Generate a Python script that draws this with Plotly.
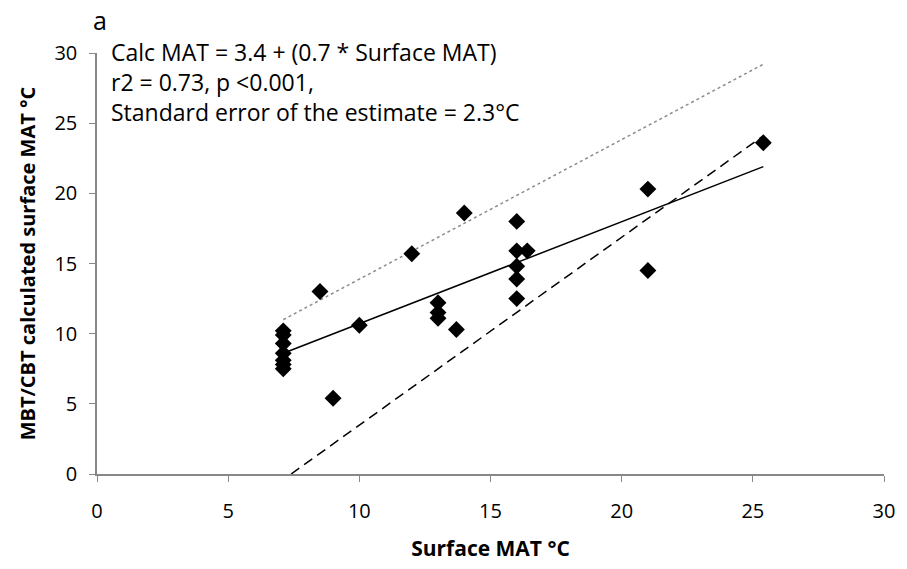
import plotly.graph_objects as go

# Data
surface_mat = [7.1, 7.1, 7.1, 7.1, 7.1, 7.1, 7.1, 8.5, 9.0, 10.0, 12.0, 13.0, 13.0, 13.0,
               13.7, 14.0, 16.0, 16.0, 16.4, 16.0, 16.0, 16.0, 21.0, 21.0, 25.4]
calc_mat = [10.2, 9.9, 9.3, 8.6, 8.1, 7.8, 7.5, 13.0, 5.4, 10.6, 15.7, 12.2, 11.5, 11.1,
            10.3, 18.6, 18.0, 15.9, 15.9, 14.8, 13.9, 12.5, 20.3, 14.5, 23.6]

trend_x = [7.1, 25.4]
trend_y = [8.6, 21.9]

upper_x = [7.1, 25.4]
upper_y = [11.0, 29.2]

dash_x = [7.4, 25.4]
dash_y = [0.0, 24.1]

x_ticks = [0, 5, 10, 15, 20, 25, 30]
y_ticks = [0, 5, 10, 15, 20, 25, 30]

annotation_lines = ["Calc MAT = 3.4 + (0.7 * Surface MAT)",
                    "r2 = 0.73, p <0.001,",
                    "Standard error of the estimate = 2.3°C"]

FONT = "Open Sans"

fig = go.Figure()
fig.add_trace(go.Scatter(x=upper_x, y=upper_y, mode="lines",
                         line=dict(color="#8c8c8c", width=1.5, dash="3px,3px"),
                         showlegend=False, hoverinfo="skip"))
fig.add_trace(go.Scatter(x=dash_x, y=dash_y, mode="lines",
                         line=dict(color="black", width=1.5, dash="10px,6px"),
                         showlegend=False, hoverinfo="skip"))
fig.add_trace(go.Scatter(x=trend_x, y=trend_y, mode="lines",
                         line=dict(color="black", width=1.5),
                         showlegend=False, hoverinfo="skip"))
fig.add_trace(go.Scatter(x=surface_mat, y=calc_mat, mode="markers",
                         marker=dict(symbol="diamond", size=13, color="black"),
                         showlegend=False))

fig.update_layout(
    width=907, height=569,
    margin=dict(l=97, r=13, t=53, b=93),
    paper_bgcolor="white", plot_bgcolor="white",
    font=dict(family=FONT, size=20, color="black"),
    xaxis=dict(range=[0, 30], tickvals=x_ticks, showgrid=False, zeroline=False,
               showline=True, linecolor="#888888", linewidth=1.5,
               ticks="outside", ticklen=6, tickcolor="#888888",
               ticklabelstandoff=12,
               tickfont=dict(family=FONT, size=20),
               title=dict(text="<b>Surface MAT °C</b>", font=dict(family=FONT, size=21), standoff=19)),
    yaxis=dict(range=[0, 30], tickvals=y_ticks, showgrid=False, zeroline=False,
               showline=True, linecolor="#888888", linewidth=1.5,
               ticks="outside", ticklen=6, tickcolor="#888888",
               ticklabelstandoff=8,
               tickfont=dict(family=FONT, size=20),
               title=dict(text="<b>MBT/CBT calculated surface MAT °C</b>", font=dict(family=FONT, size=20), standoff=13)),
)

fig.add_annotation(x=0.015, y=1.044, xref="paper", yref="paper", text="<br>".join(annotation_lines),
                   showarrow=False, align="left", xanchor="left", yanchor="top",
                   font=dict(family=FONT, size=23))
fig.add_annotation(x=-0.007, y=1.078, xref="paper", yref="paper", text="a",
                   showarrow=False, xanchor="left", yanchor="middle",
                   font=dict(family=FONT, size=25))

fig.write_html("out.html")
